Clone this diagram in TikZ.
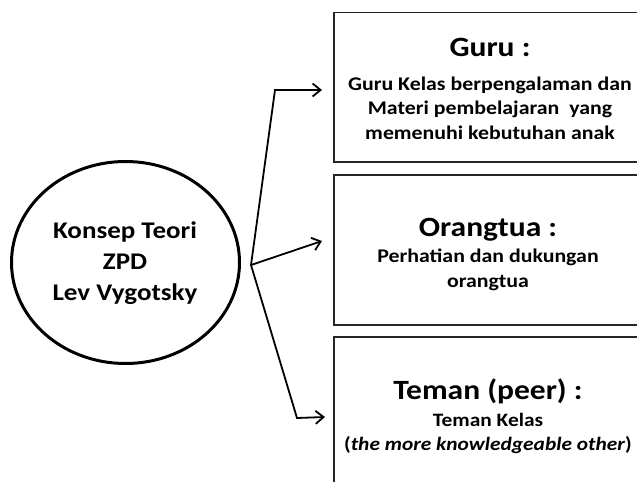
\documentclass[tikz,border=0pt]{standalone}
\usepackage{fontspec}
\setmainfont{Carlito}[FakeStretch=1.13]
\usetikzlibrary{arrows.meta,shapes.geometric}
\begin{document}
\begin{tikzpicture}[x=1bp,y=-1bp,
  conn/.style={line width=1.8bp, -{Straight Barb[length=8bp,width=13bp,line width=1.8bp]}},
  box/.style={draw=black!85, line width=1.4bp},
  head/.style={font=\bfseries\fontsize{28}{30}\selectfont, anchor=center},
  body/.style={font=\bfseries\fontsize{19.4}{24.5}\selectfont, align=center, anchor=center}]
\useasboundingbox (0,0) rectangle (637,482);
% ellipse
\node[draw, line width=3bp, ellipse, minimum width=228bp, minimum height=202bp] (zpd) at (125.5,262.5) {};
\node[font=\bfseries\fontsize{24}{31}\selectfont, align=center] (zpdtxt) at (125,263) {Konsep Teori\\ZPD\\Lev Vygotsky};
% boxes
\draw[box] (334,12.5) rectangle (646,162);
\draw[box] (334,175) rectangle (646,325);
\draw[box] (334,337) rectangle (646,490);
\node[head] (h1) at (490,47) {Guru :};
\node[body] (b1) at (490,108) {Guru Kelas berpengalaman dan\\Materi pembelajaran\ \ yang\\memenuhi kebutuhan anak};
\node[head] (h2) at (488,230) {Orangtua :};
\node[body] (b2) at (488,270) {Perhatian dan dukungan\\orangtua};
\node[head] (h3) at (488,391) {Teman (peer) :};
\node[body, font=\bfseries\fontsize{19}{24}\selectfont] (b3) at (488,433) {Teman Kelas\\(\textit{the more knowledgeable other})};
% connectors
\coordinate (j) at (251,265);
\coordinate (c1) at (275,90);
\coordinate (t1) at (322,90);
\coordinate (t2) at (322,241);
\coordinate (c3) at (297,418);
\coordinate (t3) at (325,417);
\draw[conn] (j) -- (c1) -- (t1);
\draw[conn] (j) -- (t2);
\draw[conn] (j) -- (c3) -- (t3);
\end{tikzpicture}
\end{document}
